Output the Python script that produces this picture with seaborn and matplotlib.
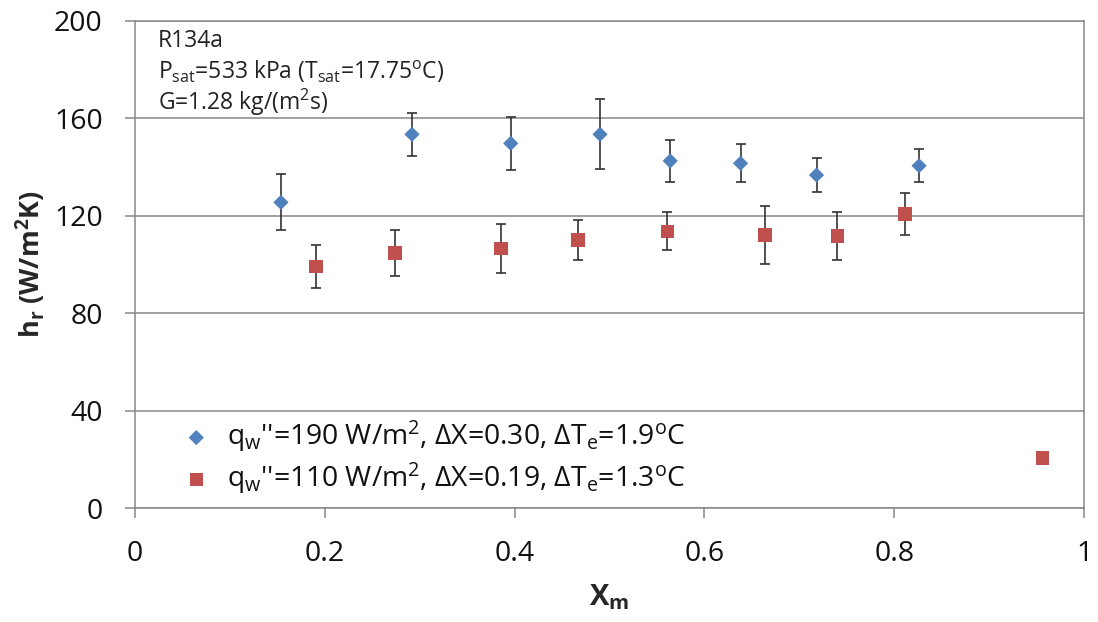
import matplotlib
matplotlib.use("Agg")
import matplotlib.pyplot as plt
import seaborn as sns
import pandas as pd

# data
x_190 = [0.154, 0.292, 0.396, 0.490, 0.564, 0.638, 0.718, 0.826]
h_190 = [125.5, 153.4, 149.7, 153.4, 142.5, 141.5, 136.7, 140.5]
err_190 = [11.5, 8.7, 11.0, 14.3, 8.7, 7.8, 7.0, 6.8]

x_110 = [0.191, 0.274, 0.386, 0.467, 0.561, 0.664, 0.740, 0.811, 0.956]
h_110 = [99.1, 104.7, 106.6, 110.0, 113.6, 112.2, 111.7, 120.7, 20.6]
err_110 = [8.8, 9.4, 10.0, 8.3, 7.8, 11.8, 10.0, 8.5, 0.0]

label_190 = "q$_{w}$''=190 W/m$^{2}$, ΔX=0.30, ΔT$_{e}$=1.9$^{o}$C"
label_110 = "q$_{w}$''=110 W/m$^{2}$, ΔX=0.19, ΔT$_{e}$=1.3$^{o}$C"

df_190 = pd.DataFrame({"x": x_190, "h": h_190})
df_110 = pd.DataFrame({"x": x_110, "h": h_110})

sns.set_theme(style="white")
plt.rcParams["font.family"] = ["Open Sans", "DejaVu Sans"]
plt.rcParams["mathtext.default"] = "regular"

blue = "#4F81BD"
red = "#C0504D"
grey = "#878787"

fig = plt.figure(figsize=(10.98, 6.22), dpi=100)
ax = fig.add_axes([0.1227, 0.1828, 0.8648, 0.7839])

# error bars first so markers sit on top
ax.errorbar(x_190, h_190, yerr=err_190, fmt="none", ecolor="#333333",
            elinewidth=1.2, capsize=3.4, capthick=1.2, zorder=2)
ax.errorbar(x_110, h_110, yerr=err_110, fmt="none", ecolor="#333333",
            elinewidth=1.2, capsize=3.4, capthick=1.2, zorder=2)

sns.scatterplot(data=df_190, x="x", y="h", marker="D", s=60, color=blue,
                edgecolor="none", ax=ax, zorder=3, label=label_190)
sns.scatterplot(data=df_110, x="x", y="h", marker="s", s=95, color=red,
                edgecolor="none", ax=ax, zorder=3, label=label_110)

ax.set_xlim(0, 1)
ax.set_ylim(0, 200)
ax.set_xticks([0, 0.2, 0.4, 0.6, 0.8, 1])
ax.set_xticklabels(["0", "0.2", "0.4", "0.6", "0.8", "1"])
ax.set_yticks([0, 40, 80, 120, 160, 200])

ax.yaxis.grid(True, color=grey, linewidth=1.1)
ax.xaxis.grid(False)
ax.set_axisbelow(True)
for sp in ax.spines.values():
    sp.set_color(grey)
    sp.set_linewidth(1.1)

ax.tick_params(axis="both", which="major", direction="out", length=7,
               width=1.1, color=grey, labelsize=20.5, labelcolor="#111111")
ax.tick_params(axis="y", pad=16)
ax.tick_params(axis="x", pad=16)
ax.tick_params(left=True, bottom=True)

ax.set_xlabel("X$_{m}$", fontsize=21, fontweight="bold", labelpad=10)
ax.set_ylabel("h$_{r}$ (W/m$^{2}$K)", fontsize=19.5, fontweight="bold", labelpad=4)

# condition text in the top-left corner
ax.text(0.024, 0.947, "R134a", transform=ax.transAxes, fontsize=16.5,
        color="#222222", va="baseline")
ax.text(0.024, 0.880, "P$_{sat}$=533 kPa (T$_{sat}$=17.75$^{o}$C)", transform=ax.transAxes,
        fontsize=16.5, color="#222222", va="baseline")
ax.text(0.024, 0.818, "G=1.28 kg/(m$^{2}$s)", transform=ax.transAxes, fontsize=16.5,
        color="#222222", va="baseline")

ax.legend(loc="center left", bbox_to_anchor=(0.05, 0.105), frameon=False,
          fontsize=20.3, handlelength=1.0, handletextpad=0.6, labelspacing=0.22,
          borderpad=0, borderaxespad=0, labelcolor="#111111")

fig.savefig("out.png", dpi=100)
